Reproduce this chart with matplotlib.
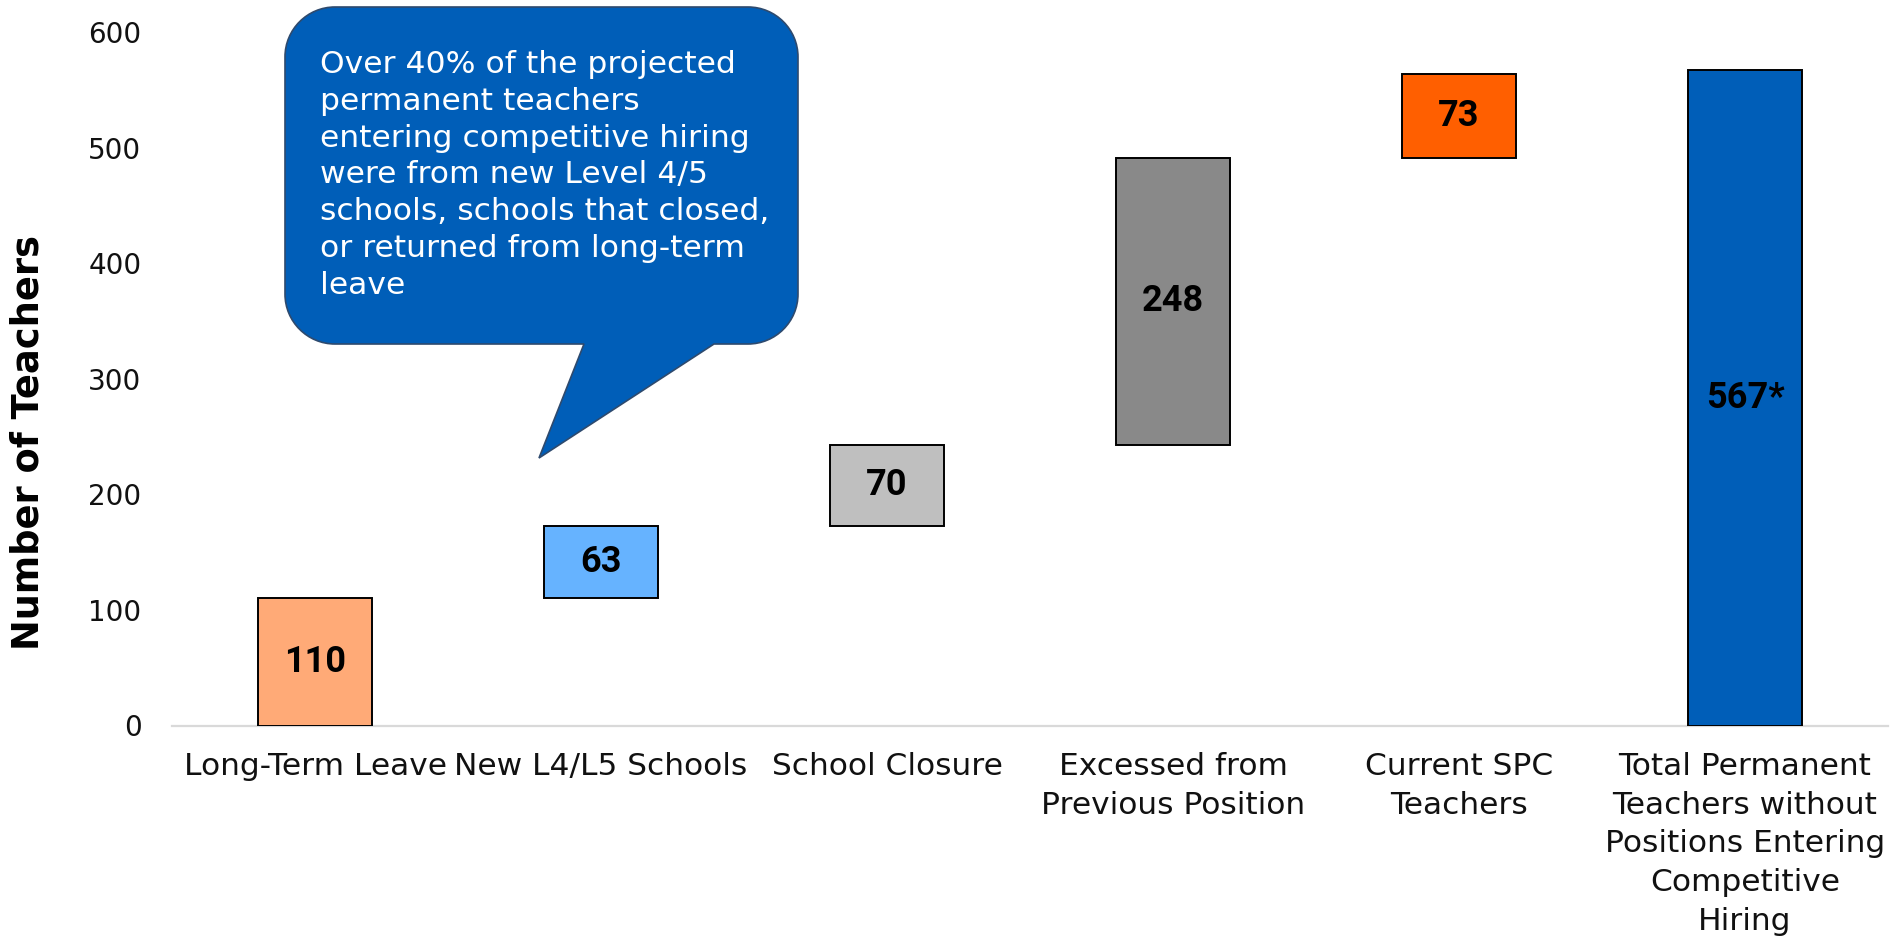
import numpy as np
import matplotlib.pyplot as plt
from matplotlib.path import Path
from matplotlib.patches import PathPatch

# Waterfall of permanent teachers without positions entering competitive hiring
categories = ["Long-Term Leave", "New L4/L5 Schools", "School Closure",
              "Excessed from\nPrevious Position", "Current SPC\nTeachers",
              "Total Permanent\nTeachers without\nPositions Entering\nCompetitive\nHiring"]
increments = [110, 63, 70, 248, 73]
total = 567
bar_colors = ['#FFAA77', '#66B3FF', '#BFBFBF', '#898989', '#FF5F00', '#005EB8']

note = ("Over 40% of the projected\npermanent teachers\nentering competitive hiring\n"
        "were from new Level 4/5\nschools, schools that closed,\nor returned from long-term\nleave")

W, H = 1891, 940
plt.rcParams['font.family'] = ['DejaVu Sans']
fig = plt.figure(figsize=(W / 100, H / 100), dpi=100)
ax = fig.add_axes([172 / W, 1 - 725.5 / H, (1888 - 172) / W, (725.5 - 32) / H])

heights = increments + [total]
bottoms = list(np.concatenate([[0], np.cumsum(increments)[:-1]])) + [0]
x = np.arange(len(categories))
ax.bar(x, heights, bottom=bottoms, width=0.40, color=bar_colors,
       edgecolor='black', linewidth=1.4, zorder=3)

labels = [str(v) for v in increments] + [str(total) + '*']
for xi, b, h, lab in zip(x, bottoms, heights, labels):
    ax.text(xi, b + h / 2, lab, ha='center', va='center', fontsize=26,
            fontweight='bold', family=['Roboto', 'DejaVu Sans'],
            color='black', zorder=4)

ax.set_xlim(-0.5, len(categories) - 0.5)
ax.set_ylim(0, 600)
ax.set_yticks(range(0, 601, 100))
ax.set_xticks(x)
ax.set_xticklabels(categories, fontsize=22.5, linespacing=1.42)
ax.tick_params(axis='both', length=0, colors='#111111')
ax.tick_params(axis='y', labelsize=20, pad=22)
ax.tick_params(axis='x', pad=19)
for s in ['top', 'right', 'left']:
    ax.spines[s].set_visible(False)
ax.spines['bottom'].set_color('#D9D9D9')
ax.spines['bottom'].set_linewidth(1.6)
ax.set_ylabel('Number of Teachers', fontsize=26.5, fontweight='bold')
ax.yaxis.set_label_coords(-0.0734, 0.408)

# speech-bubble callout, built in pixel units then mapped to figure fraction
L, R, T, B, r = 285, 798, 7, 344, 50
x1, x2, tip = 584, 714, (539, 458)
k = 0.5523
pts = [
    ((L + r, T), Path.MOVETO),
    ((R - r, T), Path.LINETO),
    ((R - r + r * k, T), Path.CURVE4), ((R, T + r - r * k), Path.CURVE4), ((R, T + r), Path.CURVE4),
    ((R, B - r), Path.LINETO),
    ((R, B - r + r * k), Path.CURVE4), ((R - r + r * k, B), Path.CURVE4), ((R - r, B), Path.CURVE4),
    ((x2, B), Path.LINETO),
    (tip, Path.LINETO),
    ((x1, B), Path.LINETO),
    ((L + r, B), Path.LINETO),
    ((L + r - r * k, B), Path.CURVE4), ((L, B - r + r * k), Path.CURVE4), ((L, B - r), Path.CURVE4),
    ((L, T + r), Path.LINETO),
    ((L, T + r - r * k), Path.CURVE4), ((L + r - r * k, T), Path.CURVE4), ((L + r, T), Path.CURVE4),
    ((L + r, T), Path.CLOSEPOLY),
]
verts = [(px / W, 1 - py / H) for (px, py), _ in pts]
codes = [c for _, c in pts]
bubble = PathPatch(Path(verts, codes), transform=fig.transFigure, facecolor='#005EB8',
                   edgecolor='#2E4A6E', linewidth=1.2, zorder=5)
fig.patches.append(bubble)
fig.text(320 / W, 1 - 50 / H, note, ha='left', va='top', color='white',
         fontsize=22.6, linespacing=1.34, zorder=6)

fig.savefig('out.png', dpi=100)
